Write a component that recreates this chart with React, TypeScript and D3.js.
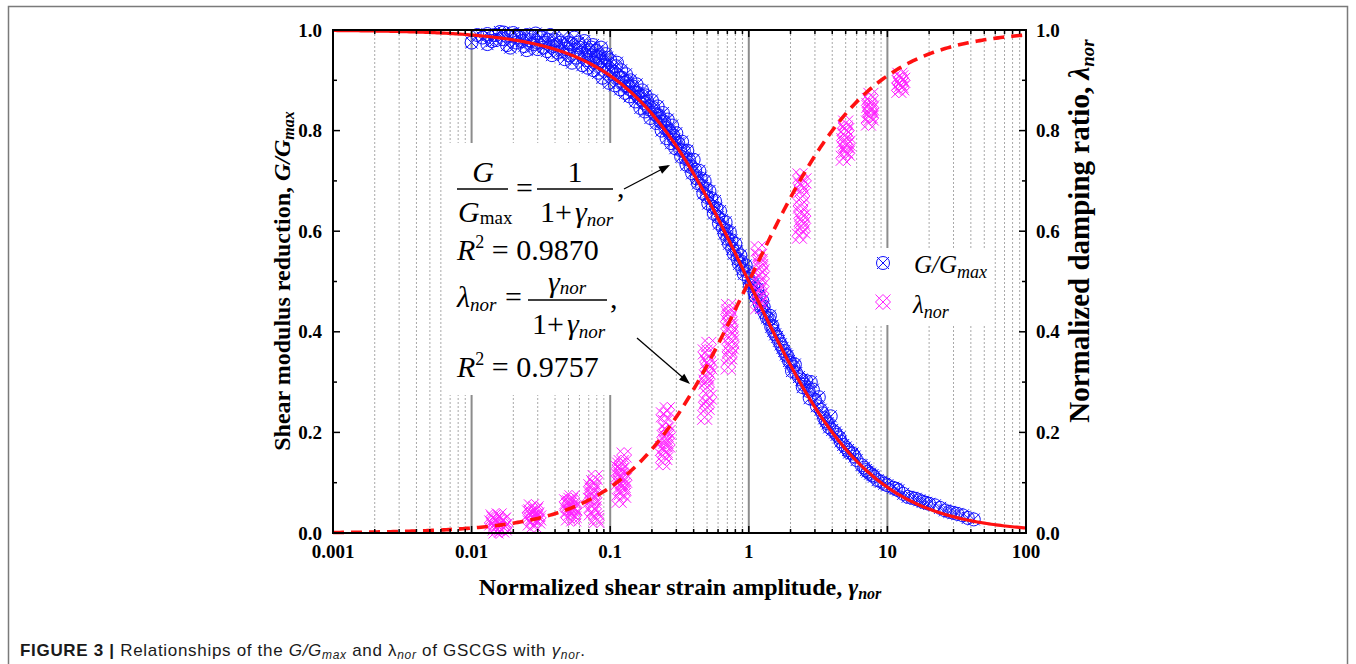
import React from 'react';
import * as d3 from 'd3';

// G/Gmax test points: normalized strain and modulus ratio
const gStrain = [
  0.010, 0.012, 0.013, 0.014, 0.015, 0.016, 0.017, 0.018, 0.019, 0.020, 0.021, 0.022, 0.024, 0.025,
  0.026, 0.028, 0.029, 0.030, 0.032, 0.034, 0.035, 0.037, 0.039, 0.040, 0.042, 0.044, 0.046, 0.048,
  0.050, 0.052, 0.055, 0.057, 0.060, 0.062, 0.065, 0.068, 0.070, 0.072, 0.075, 0.078, 0.080, 0.083,
  0.086, 0.090, 0.093, 0.097, 0.100, 0.105, 0.110, 0.115, 0.120, 0.125, 0.130, 0.135, 0.140, 0.150,
  0.155, 0.160, 0.170, 0.175, 0.180, 0.190, 0.200, 0.210, 0.220, 0.230, 0.240, 0.250, 0.260, 0.270,
  0.280, 0.290, 0.300, 0.320, 0.330, 0.350, 0.360, 0.380, 0.400, 0.420, 0.440, 0.460, 0.480, 0.500,
  0.520, 0.550, 0.570, 0.600, 0.620, 0.650, 0.680, 0.700, 0.730, 0.760, 0.800, 0.830, 0.870, 0.900,
  0.950, 1.000, 1.050, 1.100, 1.150, 1.200, 1.250, 1.300, 1.400, 1.450, 1.500, 1.600, 1.700, 1.800,
  1.900, 2.000, 2.100, 2.200, 2.400, 2.500, 2.700, 2.800, 3.000, 3.200, 3.400, 3.600, 3.800, 4.000,
  4.300, 4.600, 5.000, 5.300, 5.800, 6.500, 7.000, 7.500, 8.000, 8.500, 9.500, 11.0, 12.0, 13.0,
  16.0, 18.0, 20.0, 22.0, 26.0, 30.0, 35.0, 42.0,
];
const gRatio = [
  0.975, 0.985, 0.992, 0.978, 0.990, 0.996, 0.982, 0.970, 0.988, 0.994, 0.975, 0.985, 0.968, 0.990,
  0.980, 0.972, 0.993, 0.962, 0.985, 0.975, 0.958, 0.990, 0.968, 0.980, 0.955, 0.975, 0.988, 0.962,
  0.950, 0.972, 0.985, 0.945, 0.965, 0.955, 0.978, 0.940, 0.960, 0.950, 0.970, 0.935, 0.958, 0.945,
  0.965, 0.930, 0.952, 0.920, 0.940, 0.912, 0.928, 0.905, 0.920, 0.895, 0.912, 0.888, 0.900, 0.875,
  0.892, 0.866, 0.880, 0.855, 0.870, 0.842, 0.860, 0.832, 0.848, 0.818, 0.835, 0.805, 0.822, 0.795,
  0.810, 0.782, 0.795, 0.762, 0.778, 0.745, 0.760, 0.728, 0.742, 0.705, 0.720, 0.690, 0.700, 0.668,
  0.680, 0.648, 0.660, 0.628, 0.640, 0.606, 0.618, 0.585, 0.598, 0.565, 0.575, 0.545, 0.552, 0.525,
  0.532, 0.505, 0.498, 0.478, 0.485, 0.455, 0.462, 0.438, 0.425, 0.410, 0.402, 0.390, 0.375, 0.362,
  0.352, 0.338, 0.330, 0.318, 0.305, 0.295, 0.282, 0.300, 0.265, 0.270, 0.238, 0.222, 0.210, 0.205,
  0.195, 0.182, 0.170, 0.160, 0.152, 0.135, 0.125, 0.118, 0.112, 0.105, 0.098, 0.090, 0.085, 0.078,
  0.068, 0.062, 0.058, 0.055, 0.045, 0.040, 0.035, 0.027,
];
// second batch of G/Gmax tests
const gStrain2 = [
  0.011, 0.013, 0.015, 0.017, 0.019, 0.021, 0.023, 0.025, 0.027, 0.030, 0.033, 0.036, 0.038, 0.041,
  0.045, 0.047, 0.050, 0.053, 0.056, 0.059, 0.063, 0.066, 0.069, 0.073, 0.076, 0.079, 0.082, 0.085,
  0.088, 0.092, 0.095, 0.098, 0.102, 0.108, 0.112, 0.118, 0.122, 0.128, 0.132, 0.138, 0.145, 0.152,
  0.158, 0.165, 0.172, 0.178, 0.185, 0.195, 0.205, 0.215, 0.225, 0.235, 0.245, 0.255, 0.265, 0.275,
  0.285, 0.295, 0.310, 0.325, 0.340, 0.355, 0.370, 0.390, 0.410, 0.430, 0.450, 0.470, 0.490, 0.510,
  0.535, 0.560, 0.585, 0.610, 0.640, 0.670, 0.690, 0.720, 0.750, 0.780, 0.820, 0.850, 0.880, 0.920,
  0.970, 1.020, 1.080, 1.120, 1.180, 1.230, 1.280, 1.350, 1.420, 1.480, 1.550, 1.650, 1.750, 1.850,
  1.950, 2.050, 2.150, 2.300, 2.450, 2.600, 2.750, 2.900, 3.100, 3.300, 3.500, 3.700, 3.900, 4.200,
  4.500, 4.800, 5.200, 5.600, 6.000, 6.800, 7.200, 7.800, 9.000, 10.0, 11.5, 14.0, 15.0, 17.0,
  19.0, 24.0, 28.0, 32.0, 38.0,
];
const gRatio2 = [
  0.990, 0.972, 0.980, 0.995, 0.965, 0.990, 0.978, 0.960, 0.988, 0.975, 0.965, 0.980, 0.950, 0.970,
  0.958, 0.942, 0.975, 0.935, 0.960, 0.975, 0.930, 0.950, 0.925, 0.965, 0.920, 0.948, 0.915, 0.938,
  0.905, 0.930, 0.945, 0.895, 0.918, 0.890, 0.935, 0.882, 0.905, 0.875, 0.898, 0.868, 0.888, 0.858,
  0.875, 0.845, 0.868, 0.838, 0.858, 0.825, 0.845, 0.815, 0.830, 0.800, 0.818, 0.785, 0.800, 0.775,
  0.790, 0.765, 0.775, 0.748, 0.760, 0.732, 0.742, 0.715, 0.722, 0.695, 0.705, 0.675, 0.685, 0.655,
  0.665, 0.635, 0.645, 0.615, 0.622, 0.595, 0.602, 0.575, 0.582, 0.555, 0.560, 0.535, 0.540, 0.515,
  0.520, 0.492, 0.495, 0.470, 0.472, 0.448, 0.450, 0.428, 0.432, 0.412, 0.395, 0.382, 0.368, 0.355,
  0.342, 0.322, 0.335, 0.310, 0.290, 0.302, 0.268, 0.285, 0.252, 0.245, 0.228, 0.218, 0.232, 0.200,
  0.190, 0.175, 0.165, 0.158, 0.145, 0.130, 0.122, 0.115, 0.102, 0.095, 0.088, 0.072, 0.070, 0.065,
  0.060, 0.050, 0.042, 0.038, 0.030,
];

// normalized damping ratio test points (13 strain levels)
const dStrain = [
  0.0148, 0.0160, 0.0170, 0.0143, 0.0165, 0.0152, 0.0175, 0.0145, 0.0158, 0.0172, 0.0150, 0.0140, 0.0168,
  0.0265, 0.0280, 0.0295, 0.0288, 0.0270, 0.0282, 0.0300, 0.0262, 0.0292, 0.0275, 0.0305, 0.0268,
  0.0500, 0.0520, 0.0540, 0.0510, 0.0530, 0.0490, 0.0550, 0.0520, 0.0500, 0.0545, 0.0555, 0.0485,
  0.0730, 0.0750, 0.0770, 0.0740, 0.0760, 0.0780, 0.0720, 0.0790, 0.0765, 0.0745, 0.0800, 0.0725,
  0.116, 0.120, 0.124, 0.118, 0.122, 0.120, 0.126, 0.114, 0.125, 0.119, 0.117, 0.123, 0.127, 0.115,
  0.240, 0.250, 0.260, 0.245, 0.255, 0.250, 0.242, 0.258, 0.248, 0.262, 0.238, 0.252,
  0.48, 0.50, 0.52, 0.49, 0.51, 0.50, 0.485, 0.515, 0.50, 0.49, 0.51, 0.495, 0.525,
  0.71, 0.73, 0.75, 0.72, 0.74, 0.73, 0.715, 0.745, 0.725, 0.72, 0.755, 0.705,
  1.16, 1.20, 1.24, 1.18, 1.22, 1.20, 1.17, 1.23, 1.19, 1.21, 1.18, 1.25,
  2.32, 2.40, 2.48, 2.36, 2.44, 2.40, 2.34, 2.46, 2.38, 2.36, 2.42, 2.50,
  4.8, 5.0, 5.2, 4.9, 5.1, 5.0, 4.85, 5.15, 5.05, 4.95,
  7.3, 7.5, 7.7, 7.4, 7.6, 7.5, 7.35, 7.65,
  12.1, 12.5, 12.9, 12.3, 12.7, 12.5, 12.2,
];
const dRatio = [
  0.010, 0.018, 0.026, 0.032, 0.006, 0.022, 0.014, 0.028, 0.034, 0.010, 0.004, 0.020, 0.024,
  0.020, 0.028, 0.036, 0.044, 0.052, 0.016, 0.024, 0.040, 0.048, 0.032, 0.030, 0.042,
  0.030, 0.040, 0.050, 0.060, 0.070, 0.045, 0.035, 0.065, 0.055, 0.028, 0.050, 0.062,
  0.040, 0.055, 0.070, 0.085, 0.100, 0.110, 0.065, 0.030, 0.048, 0.078, 0.025, 0.092,
  0.065, 0.080, 0.095, 0.110, 0.125, 0.140, 0.155, 0.100, 0.075, 0.115, 0.135, 0.088, 0.105, 0.128,
  0.140, 0.160, 0.175, 0.190, 0.205, 0.220, 0.235, 0.245, 0.150, 0.200, 0.168, 0.182,
  0.230, 0.250, 0.270, 0.300, 0.320, 0.340, 0.360, 0.375, 0.290, 0.260, 0.350, 0.310, 0.330,
  0.330, 0.350, 0.370, 0.390, 0.410, 0.430, 0.450, 0.400, 0.360, 0.440, 0.380, 0.420,
  0.450, 0.470, 0.490, 0.510, 0.530, 0.550, 0.565, 0.460, 0.500, 0.540, 0.480, 0.520,
  0.590, 0.610, 0.630, 0.650, 0.670, 0.690, 0.710, 0.600, 0.640, 0.680, 0.620, 0.700,
  0.745, 0.760, 0.775, 0.790, 0.800, 0.815, 0.780, 0.755, 0.770, 0.805,
  0.815, 0.830, 0.845, 0.860, 0.870, 0.840, 0.850, 0.825,
  0.880, 0.890, 0.900, 0.910, 0.885, 0.905, 0.895,
];

const yTicks = ['0.0', '0.2', '0.4', '0.6', '0.8', '1.0'];
const xTicks = ['0.001', '0.01', '0.1', '1', '10', '100'];

// fitted models shown in the annotation
const fitG = (g: number) => 1 / (1 + g);
const fitD = (g: number) => g / (1 + g);

const SERIF = '"Liberation Serif", "Times New Roman", serif';
const SANS = '"Liberation Sans", Arial, sans-serif';
const BLUE = '#1010ff';
const MAG = '#ff22ff';
const RED = '#ff1111';

function CircleX({ x, y }: { x: number; y: number }) {
  return (
    <g transform={`translate(${x},${y})`} fill="none" stroke={BLUE} strokeWidth={1}>
      <circle r={6.5} />
      <path d="M-6,-6L6,6M-6,6L6,-6" />
    </g>
  );
}

function CrossDiamond({ x, y }: { x: number; y: number }) {
  return (
    <g transform={`translate(${x},${y})`} fill="none" stroke={MAG} strokeWidth={1}>
      <path d="M-7.5,-7.5L7.5,7.5M-7.5,7.5L7.5,-7.5M0,-7.5L7.5,0L0,7.5L-7.5,0Z" />
    </g>
  );
}

function Sub({ children, size, dy }: { children: React.ReactNode; size: number; dy: number }) {
  return (
    <tspan fontStyle="italic" fontSize={size} dy={dy}>
      {children}
    </tspan>
  );
}

export default function App() {
  const left = 333, right = 1026, top = 30, bottom = 533;
  const x = d3.scaleLog().domain([0.001, 100]).range([left, right]);
  const y = d3.scaleLinear().domain([0, 1]).range([bottom, top]);

  const minor: number[] = [];
  const decades: number[] = [];
  for (let k = -3; k <= 1; k++) {
    for (let m = 2; m <= 9; m++) minor.push(m * Math.pow(10, k));
    if (k > -3) decades.push(Math.pow(10, k));
  }

  const samples = d3.range(0, 301).map((i) => Math.pow(10, -3 + (i * 5) / 300));
  const gPath = d3.line<number>().x((g) => x(g)).y((g) => y(fitG(g)))(samples) || '';
  const dPath = d3.line<number>().x((g) => x(g)).y((g) => y(fitD(g)))(samples) || '';

  const yMinor = d3.range(1, 10, 2).map((v) => v / 10);
  const arrowHead = 'M0,0L-11,-4L-11,4Z';

  return (
    <svg
      width={1356}
      height={664}
      style={{ position: 'absolute', left: 0, top: 0, display: 'block', background: '#fff' }}
      fontFamily={SERIF}
    >
      {/* figure border */}
      <path d="M8.5,680V6.5H1347.5V680" fill="none" stroke="#7a7a7a" strokeWidth={1.5} />

      {/* grid */}
      <g>
        {minor.map((v) => (
          <line key={'m' + v} x1={x(v)} x2={x(v)} y1={top} y2={bottom}
            stroke="#a8a8a8" strokeWidth={1} strokeDasharray="2,2" />
        ))}
        {decades.map((v) => (
          <line key={'d' + v} x1={x(v)} x2={x(v)} y1={top} y2={bottom} stroke="#8c8c8c" strokeWidth={2} />
        ))}
      </g>

      {/* annotation & legend backgrounds */}
      <rect x={446} y={143} width={194} height={252} fill="#fff" />
      <rect x={846} y={248} width={142} height={77} fill="#fff" />

      {/* data */}
      <g>
        {gStrain.map((g, i) => (
          <CircleX key={'g' + i} x={x(g)} y={y(gRatio[i])} />
        ))}
        {gStrain2.map((g, i) => (
          <CircleX key={'h' + i} x={x(g)} y={y(gRatio2[i])} />
        ))}
      </g>
      <g>
        {dStrain.map((g, i) => (
          <CrossDiamond key={'l' + i} x={x(g)} y={y(dRatio[i])} />
        ))}
      </g>

      {/* fits */}
      <path d={gPath} fill="none" stroke={RED} strokeWidth={3.2} />
      <path d={dPath} fill="none" stroke={RED} strokeWidth={3.6} strokeDasharray="11,7" />

      {/* frame + ticks */}
      <rect x={left} y={top} width={right - left} height={bottom - top} fill="none" stroke="#000" strokeWidth={2} />
      <g stroke="#000" strokeWidth={1.5}>
        {yTicks.map((t) => (
          <g key={'yt' + t}>
            <line x1={left} x2={left + 7} y1={y(+t)} y2={y(+t)} />
            <line x1={right} x2={right - 7} y1={y(+t)} y2={y(+t)} />
          </g>
        ))}
        {yMinor.map((v) => (
          <g key={'ym' + v}>
            <line x1={left} x2={left + 4} y1={y(v)} y2={y(v)} />
            <line x1={right} x2={right - 4} y1={y(v)} y2={y(v)} />
          </g>
        ))}
        {decades.map((v) => (
          <g key={'xt' + v}>
            <line x1={x(v)} x2={x(v)} y1={bottom} y2={bottom - 7} />
            <line x1={x(v)} x2={x(v)} y1={top} y2={top + 7} />
          </g>
        ))}
        {minor.map((v) => (
          <g key={'xm' + v}>
            <line x1={x(v)} x2={x(v)} y1={bottom} y2={bottom - 4} />
            <line x1={x(v)} x2={x(v)} y1={top} y2={top + 4} />
          </g>
        ))}
      </g>

      {/* tick labels */}
      <g fontWeight="bold" fontSize={19} fill="#000">
        {yTicks.map((t) => (
          <text key={'yl' + t} x={left - 11} y={y(+t) + 6.5} textAnchor="end">{t}</text>
        ))}
        {yTicks.map((t) => (
          <text key={'yr' + t} x={right + 10} y={y(+t) + 6.5}>{t}</text>
        ))}
        {xTicks.map((t) => (
          <text key={'xl' + t} x={x(+t)} y={558} textAnchor="middle">{t}</text>
        ))}
      </g>

      {/* axis titles */}
      <text transform="translate(290,281) rotate(-90)" textAnchor="middle" fontWeight="bold" fontSize={24}>
        Shear modulus reduction, <tspan fontStyle="italic">G/G</tspan>
        <Sub size={16} dy={4}>max</Sub>
      </text>
      <text transform="translate(1089,231) rotate(-90)" textAnchor="middle" fontWeight="bold" fontSize={29}>
        Normalized damping ratio, <tspan fontStyle="italic">λ</tspan>
        <Sub size={19} dy={5}>nor</Sub>
      </text>
      <text x={680} y={595} textAnchor="middle" fontWeight="bold" fontSize={24}>
        Normalized shear strain amplitude, <tspan fontStyle="italic">γ</tspan>
        <Sub size={16} dy={4}>nor</Sub>
      </text>

      {/* equations */}
      <g fontSize={30} fill="#000">
        <text x={483} y={182} textAnchor="middle" fontStyle="italic">G</text>
        <line x1={457} x2={508} y1={189} y2={189} stroke="#000" strokeWidth={1.4} />
        <text x={458} y={222}>
          <tspan fontStyle="italic">G</tspan>
          <tspan fontSize={19} dy={2}>max</tspan>
        </text>
        <text x={516} y={198}>=</text>
        <text x={575} y={182} textAnchor="middle">1</text>
        <line x1={537} x2={613} y1={189} y2={189} stroke="#000" strokeWidth={1.4} />
        <text x={540} y={222}>
          1+<tspan fontStyle="italic" dx={3}>γ</tspan>
          <Sub size={19} dy={4}>nor</Sub>
        </text>
        <text x={617} y={197}>,</text>

        <text x={457} y={260}>
          <tspan fontStyle="italic">R</tspan>
          <tspan fontSize={18} dy={-12}>2</tspan>
          <tspan dy={12}> = 0.9870</tspan>
        </text>

        <text x={457} y={307}>
          <tspan fontStyle="italic">λ</tspan>
          <Sub size={19} dy={4}>nor</Sub>
        </text>
        <text x={505} y={307}>=</text>
        <text x={567} y={292} textAnchor="middle">
          <tspan fontStyle="italic">γ</tspan>
          <Sub size={19} dy={2}>nor</Sub>
        </text>
        <line x1={528} x2={607} y1={300} y2={300} stroke="#000" strokeWidth={1.4} />
        <text x={532} y={334}>
          1+<tspan fontStyle="italic" dx={3}>γ</tspan>
          <Sub size={19} dy={4}>nor</Sub>
        </text>
        <text x={610} y={308}>,</text>

        <text x={457} y={377}>
          <tspan fontStyle="italic">R</tspan>
          <tspan fontSize={18} dy={-12}>2</tspan>
          <tspan dy={12}> = 0.9757</tspan>
        </text>
      </g>

      {/* arrows */}
      <g stroke="#000" strokeWidth={1.3}>
        <line x1={624} x2={668} y1={189} y2={166} />
        <line x1={637} x2={688} y1={338} y2={382} />
      </g>
      <path d={arrowHead} fill="#000" transform={`translate(670,165) rotate(${(Math.atan2(-23, 44) * 180) / Math.PI})`} />
      <path d={arrowHead} fill="#000" transform={`translate(690,384) rotate(${(Math.atan2(44, 51) * 180) / Math.PI})`} />

      {/* legend */}
      <CircleX x={883} y={263} />
      <text x={914} y={273} fontSize={25}>
        <tspan fontStyle="italic">G/G</tspan>
        <Sub size={18} dy={5}>max</Sub>
      </text>
      <CrossDiamond x={883} y={302} />
      <text x={913} y={313} fontSize={25}>
        <tspan fontStyle="italic">λ</tspan>
        <Sub size={18} dy={5}>nor</Sub>
      </text>

      {/* caption */}
      <text x={20} y={656} fontFamily={SANS} fontSize={17} fill="#1a1a1a" textLength={565} lengthAdjust="spacing">
        <tspan fontWeight="bold">FIGURE 3 | </tspan>
        <tspan>Relationships of the </tspan>
        <tspan fontStyle="italic">G/G</tspan>
        <tspan fontStyle="italic" fontSize={12} dy={3}>max</tspan>
        <tspan dy={-3}> and </tspan>
        <tspan>λ</tspan>
        <tspan fontStyle="italic" fontSize={12} dy={3}>nor</tspan>
        <tspan dy={-3}> of GSCGS with </tspan>
        <tspan fontStyle="italic">γ</tspan>
        <tspan fontStyle="italic" fontSize={12} dy={3}>nor</tspan>
        <tspan dy={-3}>.</tspan>
      </text>
    </svg>
  );
}
